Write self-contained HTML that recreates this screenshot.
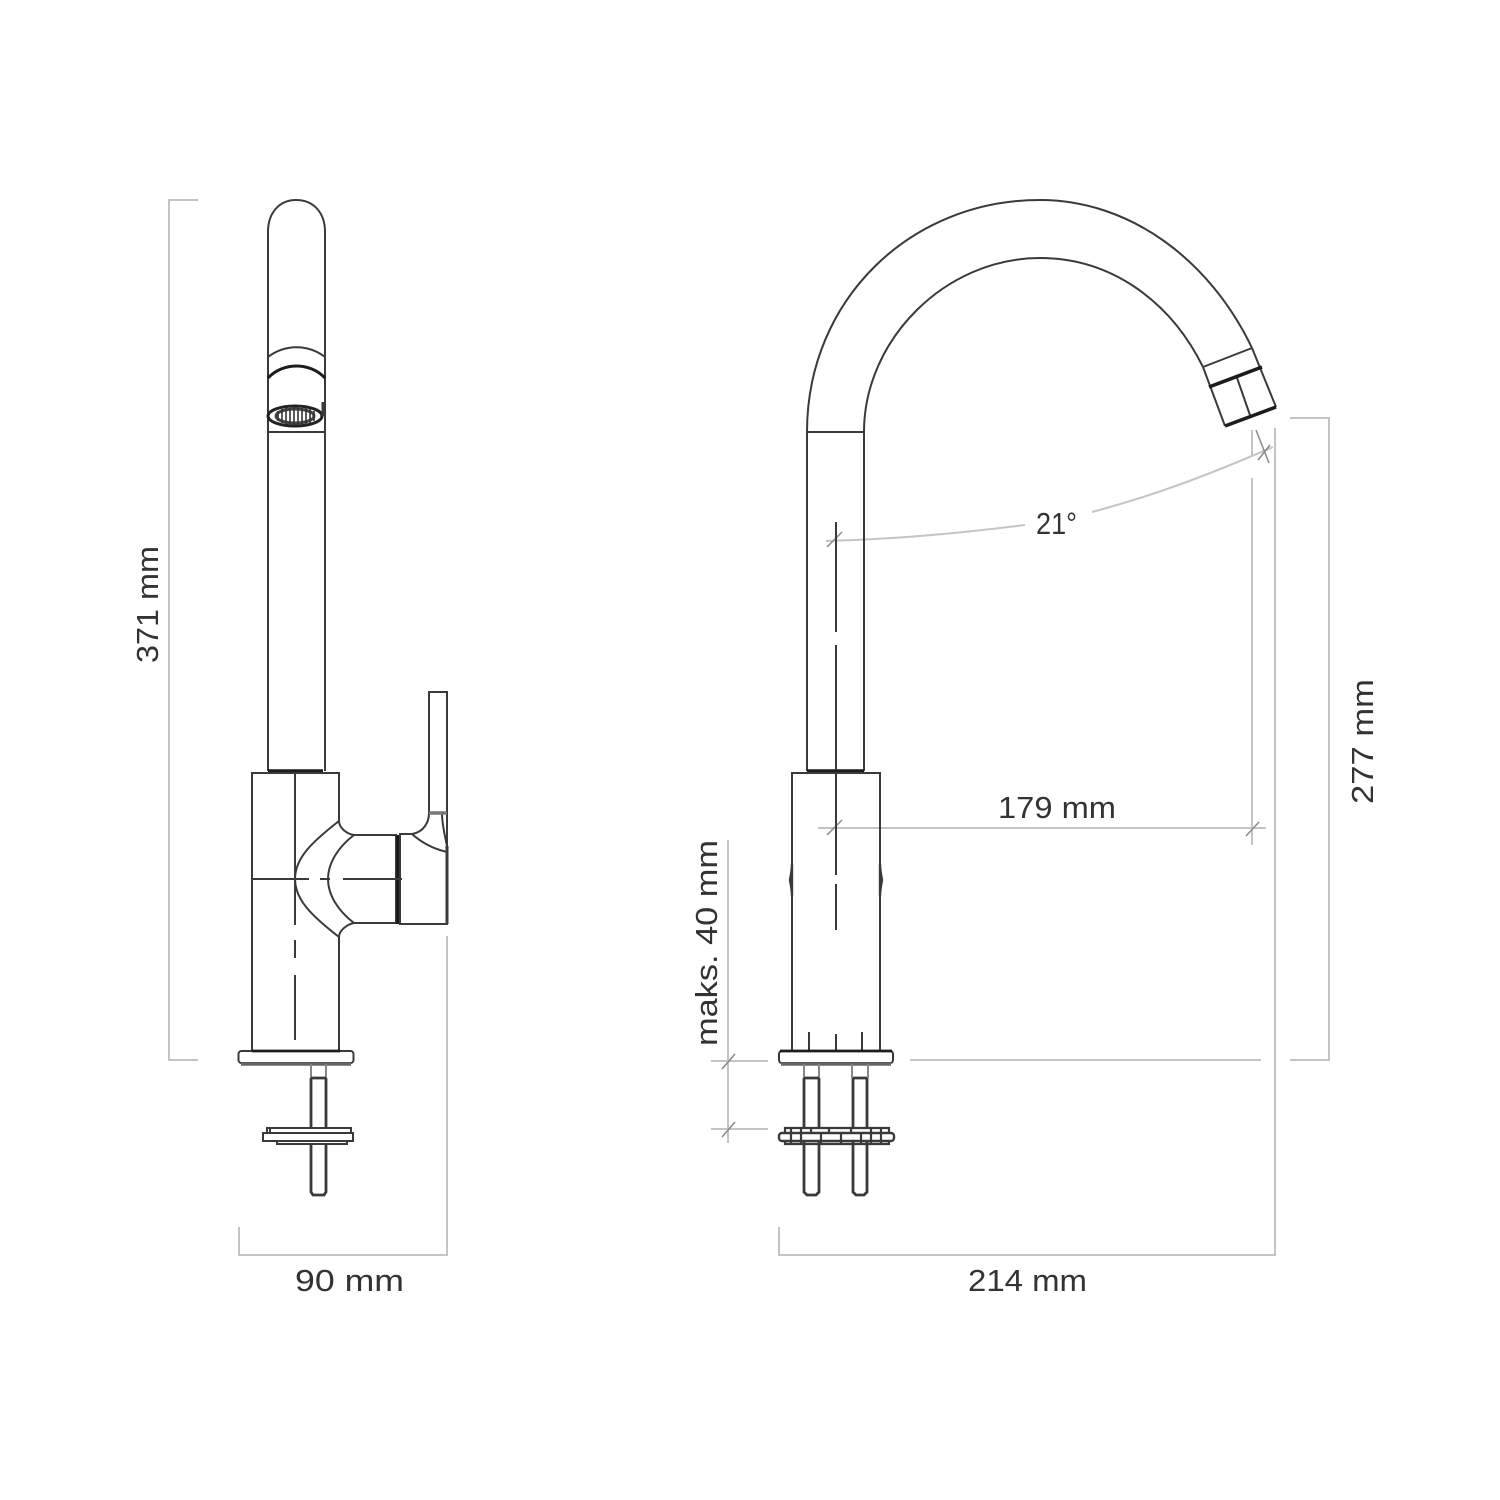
<!DOCTYPE html>
<html><head><meta charset="utf-8"><style>
html,body{margin:0;padding:0;background:#fff}
svg{display:block}
text{font-family:"Liberation Sans",sans-serif;font-size:31px;fill:#333}
.k{fill:none;stroke:#3a3a3a;stroke-width:2}
.m{fill:none;stroke:#1c1c1c;stroke-width:3.6}
.g{fill:none;stroke:#c4c4c4;stroke-width:2}
.t{fill:none;stroke:#888;stroke-width:1.5}
</style></head><body>
<svg width="1500" height="1500" viewBox="0 0 1500 1500" xmlns="http://www.w3.org/2000/svg">
<rect width="1500" height="1500" fill="#fff"/>
<!-- gray dimensions left -->
<path class="g" d="M198 200H169V1060H198M239 1227V1255H447V936"/>
<!-- gray dimensions right -->
<path class="g" d="M779 1227V1255H1275V428M1290 418H1329V1060H1290M910 1060H1261M1252 430V455M1252 478V845M818 828H1266M711 1061H768M711 1129H768M728 840V1143"/>
<path class="g" d="M826 541C900 539 960 533 1025 525M1092 512C1160 494 1215 472 1273 447"/>
<path class="t" d="M1256 430L1269 463M1258 460L1270 445M827 547L842 532M827 835L842 820M1246 836L1259 822M722 1069L735 1054M722 1137L735 1122"/>
<!-- LEFT FAUCET -->
<path class="k" d="M268 771V232C268 212 280 200 296 200C313 200 325 212 325 232V771"/>
<path class="k" d="M268 357C285 344 308 344 325 357M268 432H325"/>
<path class="m" style="stroke-width:3" d="M268 378C283 362 310 362 325 378"/>
<ellipse class="k" cx="295" cy="416" rx="27" ry="10" style="stroke-width:3;stroke:#222"/>
<ellipse cx="295" cy="416" rx="19" ry="7" fill="none" stroke="#444" stroke-width="3"/>
<path fill="none" stroke="#333" stroke-width="1.6" d="M278 411V421M282 409V423M286 408V424M290 408V424M294 408V424M298 408V424M302 408V424M306 408V424M310 409V423M314 411V421"/>
<path class="k" style="stroke-width:3" d="M323 402V416"/>
<path class="m" style="stroke-width:3.4" d="M268 771H323"/>
<path class="k" d="M339 1050V937C339 930 348 924 354 923H396V835H354C347 834 339 828 339 821V773H252V1050"/>
<path class="k" d="M339 821C312 842 295 858 295 879C295 900 312 916 339 937M354 835C337 848 328 864 328 879C328 894 337 910 354 923"/>
<path class="m" d="M398 835V924"/>
<path class="k" d="M295 773V925M295 940V958M295 975V1040M252 879H309M320 879H330M343 879H402"/>
<path class="k" d="M429 813V692H447V924H400V834H412C424 832 429 822 429 813Z"/>
<path class="k" d="M412 834C422 843 434 849 447 852M442 813C442 825 445 836 447 846"/>
<path class="k" style="stroke-width:3.4;stroke:#777" d="M429 813H447"/>
<path class="k" style="stroke-width:3" d="M447 846V924"/>
<rect class="k" x="238.500" y="1051" width="115" height="12" rx="3"/>
<path class="m" style="stroke-width:3.4;stroke:#666" d="M241 1064H351"/>
<path class="m" style="stroke-width:2.8" d="M252 1051H340"/>
<path class="k" style="stroke:#888" d="M311 1064V1078M326 1064V1078"/>
<path class="k" style="stroke-width:2.8" d="M311 1078H326M311 1078V1128M326 1078V1128M311 1144V1192L313 1195H324L326 1192V1144"/>
<path class="k" d="M267 1133V1128H351V1133M263 1133H353V1141H263ZM277 1141V1144H347V1141M270 1128V1133"/>
<!-- RIGHT FAUCET -->
<path class="k" d="M807 771V432C807 300 910 200 1040 200C1130 200 1210 260 1252 348M864 771V432C864 340 945 258 1040 258C1110 258 1170 300 1203 367M807 432H864"/>
<path class="k" d="M1252 348L1203 367M1252 348L1276 407M1203 367L1225 426M1236 375L1251 418"/>
<path class="m" d="M1209 387L1262 367M1225 426L1276 407"/>
<path class="m" style="stroke-width:3.4" d="M807 771H864"/>
<path class="k" d="M792 1050V773H880V1050"/>
<path class="k" style="stroke-width:2.4" d="M790 880Q792 870 792 864V896Q792 890 790 880ZM882 880Q880 870 880 864V896Q880 890 882 880Z"/>
<path class="k" d="M836 522V632M836 645V770M836 773V875M836 884V930M809 1032V1050M836 1034V1050M862 1032V1050"/>
<rect class="k" x="779" y="1051" width="114" height="12" rx="3"/>
<path class="m" style="stroke-width:3.4;stroke:#666" d="M781 1064H891"/>
<path class="m" style="stroke-width:2.8" d="M780 1051H892"/>
<path class="k" style="stroke:#888" d="M804 1064V1078M819 1064V1078M852 1064V1078M868 1064V1078"/>
<path class="k" style="stroke-width:2.8" d="M804 1078H819M804 1078V1128M819 1078V1128M853 1078H867M853 1078V1128M867 1078V1128M804 1142V1192L807 1195H816L819 1192V1142M853 1142V1192L856 1195H864L867 1192V1142"/>
<rect class="k" x="779" y="1133" width="115" height="8" rx="3" style="stroke-width:2.4"/>
<path class="k" style="stroke-width:2.2" d="M785 1133V1128H889V1133M785 1141V1144H889V1141M791 1128V1144M801 1128V1144M811 1128V1133M821 1133V1144M829 1128V1133M841 1133V1144M851 1128V1133M861 1133V1144M871 1128V1144M881 1128V1144"/>
<!-- TEXT -->
<text x="295" y="1291" textLength="109" lengthAdjust="spacingAndGlyphs">90 mm</text>
<text x="968" y="1291" textLength="119" lengthAdjust="spacingAndGlyphs">214 mm</text>
<text x="998" y="818" textLength="118" lengthAdjust="spacingAndGlyphs">179 mm</text>
<text x="1036" y="534" textLength="41" lengthAdjust="spacingAndGlyphs">21°</text>
<text transform="translate(158 663) rotate(-90)" textLength="117" lengthAdjust="spacingAndGlyphs">371 mm</text>
<text transform="translate(1373 804) rotate(-90)" textLength="125" lengthAdjust="spacingAndGlyphs">277 mm</text>
<text transform="translate(717 1046) rotate(-90)" textLength="206" lengthAdjust="spacingAndGlyphs">maks. 40 mm</text>
</svg>
</body></html>
